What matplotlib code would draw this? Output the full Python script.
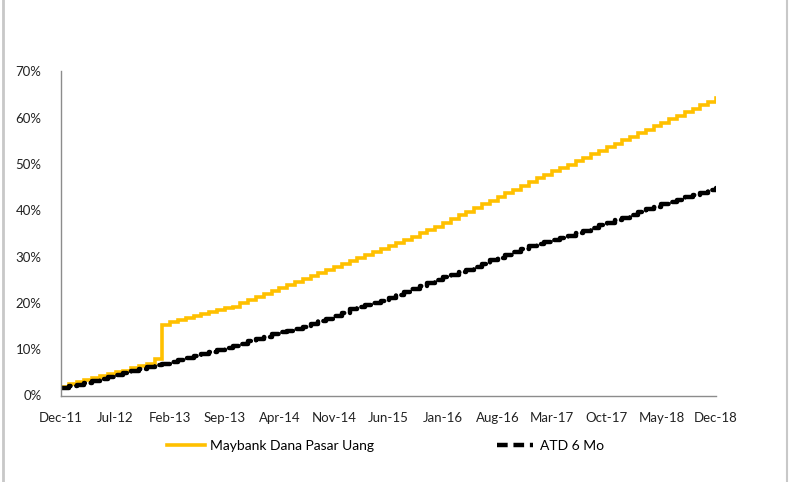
import matplotlib
matplotlib.use("Agg")
import matplotlib.pyplot as plt
from matplotlib.lines import Line2D

months = ["Dec-11", "Jul-12", "Feb-13", "Sep-13", "Apr-14", "Nov-14", "Jun-15",
          "Jan-16", "Aug-16", "Mar-17", "Oct-17", "May-18", "Dec-18"]

maybank = [1.9, 2.4, 2.9, 3.4, 3.8, 4.2, 4.6, 5.0, 5.4, 5.9, 6.4, 6.9, 7.9,
           15.2, 15.8, 16.3, 16.8, 17.2, 17.6, 18.0, 18.4, 18.8, 19.2, 19.9,
           20.6, 21.3, 22.0, 22.6, 23.2, 23.9, 24.5, 25.2, 25.8, 26.5, 27.1,
           27.8, 28.4, 29.1, 29.7, 30.4, 31.0, 31.7, 32.4, 33.0, 33.7, 34.3,
           35.0, 35.7, 36.5, 37.3, 38.1, 38.9, 39.7, 40.5, 41.3, 42.1, 42.9,
           43.7, 44.5, 45.3, 46.1, 46.9, 47.6, 48.4, 49.2, 49.9, 50.7, 51.4,
           52.2, 52.9, 53.7, 54.4, 55.2, 55.9, 56.7, 57.4, 58.2, 58.9, 59.7,
           60.4, 61.2, 61.9, 62.7, 63.5, 64.3]

atd = [1.6, 2.0, 2.3, 2.7, 3.2, 3.6, 4.0, 4.4, 4.9, 5.3, 5.7, 6.1, 6.5,
       6.9, 7.3, 7.6, 8.0, 8.5, 8.9, 9.3, 9.8, 10.2, 10.7, 11.2, 11.7,
       12.2, 12.7, 13.2, 13.7, 14.0, 14.4, 14.9, 15.5, 16.1, 16.6, 17.1,
       17.8, 18.6, 19.1, 19.5, 19.9, 20.4, 21.0, 21.7, 22.4, 23.1, 23.7,
       24.3, 24.9, 25.6, 26.1, 26.6, 27.1, 27.7, 28.5, 29.2, 29.8, 30.4,
       31.1, 31.7, 32.2, 32.7, 33.2, 33.6, 34.0, 34.4, 35.0, 35.6, 36.2,
       36.8, 37.3, 37.9, 38.4, 39.0, 39.6, 40.2, 40.8, 41.3, 41.8, 42.3,
       42.8, 43.3, 43.8, 44.3, 44.8]

yticks = [0, 10, 20, 30, 40, 50, 60, 70]

FONT = "Lato"
YELLOW = "#FFC000"
fig = plt.figure(figsize=(7.91, 4.82), dpi=100)
ax = fig.add_axes([61/791, 1-395.5/482, (716-61)/791, (395.5-71.5)/482])

x = list(range(len(maybank)))
ax.plot(x, maybank, color=YELLOW, lw=2.6, drawstyle="steps-post",
        solid_joinstyle="miter")
ax.plot(x, atd, color="black", lw=3.2, drawstyle="steps-post",
        linestyle=(0, (2.6, 1.3)), dash_capstyle="round")

ax.set_xlim(0, len(maybank) - 1)
ax.set_ylim(0, 70)
ax.set_yticks(yticks)
ax.set_yticklabels([f"{v}%" for v in yticks], fontsize=9.5, family=FONT, color="#222222")
ax.set_xticks([7*i for i in range(len(months))])
ax.set_xticklabels(months, fontsize=9.5, family=FONT, color="#222222")
ax.tick_params(axis="both", length=0)
ax.tick_params(axis="y", pad=14)
ax.tick_params(axis="x", pad=12)
for s in ["top", "right"]:
    ax.spines[s].set_visible(False)
for s in ["left", "bottom"]:
    ax.spines[s].set_color("#8c8c8c")
    ax.spines[s].set_linewidth(1.0)

# legend
h1 = Line2D([], [], color=YELLOW, lw=2.6)
h2 = Line2D([], [], color="black", lw=3.2, linestyle=(0, (2.4, 1.3)))
fig.legend([h1], ["Maybank Dana Pasar Uang"], loc="center left",
           bbox_to_anchor=(167/791, 1-446/482), frameon=False,
           prop={"family": FONT, "size": 10}, handlelength=2.7,
           handletextpad=0.4, borderaxespad=0, borderpad=0)
fig.legend([h2], ["ATD 6 Mo"], loc="center left",
           bbox_to_anchor=(497/791, 1-446/482), frameon=False,
           prop={"family": FONT, "size": 10}, handlelength=2.6,
           handletextpad=0.5, borderaxespad=0, borderpad=0)

# outer frame lines
fig.add_artist(Line2D([3/791, 3/791], [0, 1], color="#c8c8c8", lw=2.0,
                      transform=fig.transFigure))
fig.add_artist(Line2D([787/791, 787/791], [0, 1], color="#c8c8c8", lw=1.5,
                      transform=fig.transFigure))

fig.savefig("out.png", dpi=100)
